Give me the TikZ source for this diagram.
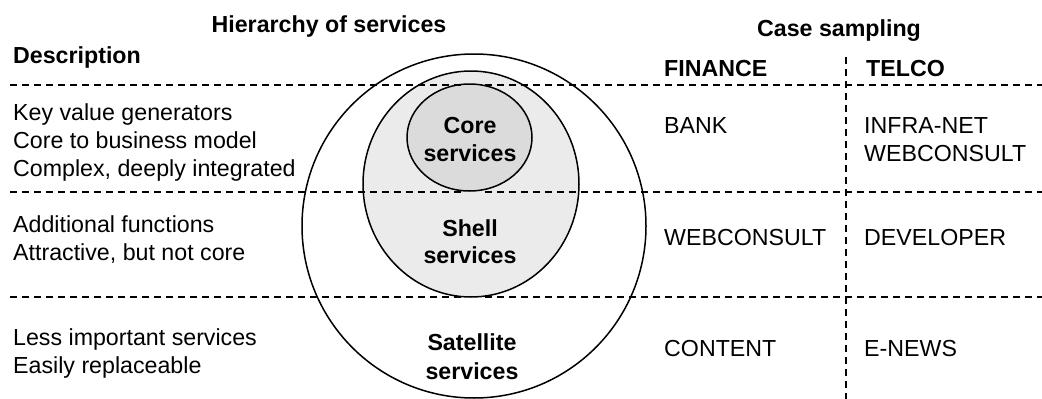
\documentclass[tikz,border=0pt]{standalone}
\usepackage{fontspec}
\setmainfont{Liberation Sans}
\begin{document}
\begin{tikzpicture}[x=1pt,y=-1pt,
  txt/.style={inner sep=0pt,anchor=base west,font=\fontsize{23.2}{28}\selectfont},
  hdr/.style={txt,font=\fontsize{23.2}{28}\selectfont\bfseries},
  ctr/.style={inner sep=0pt,anchor=base,font=\fontsize{23.2}{28}\selectfont\bfseries},
  ring/.style={draw=black,line width=1.5pt},
  sep/.style={draw=black,line width=2.7pt,dash pattern=on 7pt off 5pt}]
\useasboundingbox (0,0) rectangle (1042,399);
% circles
\draw[ring,fill=white] (474,226) ellipse [x radius=172,y radius=172];
\draw[ring,fill=black!8] (471,184) ellipse [x radius=108,y radius=113];
\draw[ring,fill=black!14] (469.5,137.5) ellipse [x radius=62.5,y radius=53.5];
% separators
\coordinate (l1a) at (10,85); \coordinate (l1b) at (463,85);
\coordinate (l1c) at (485,85); \coordinate (l1d) at (1042,85);
\coordinate (l2a) at (10,192); \coordinate (l2b) at (463,192);
\coordinate (l2c) at (485,192); \coordinate (l2d) at (1042,192);
\coordinate (l3a) at (10,297); \coordinate (l3b) at (463,297);
\coordinate (l3c) at (485,297); \coordinate (l3d) at (1042,297);
\coordinate (va) at (846,57); \coordinate (vb) at (846,399);
\draw[sep] (l1a) -- (l1b); \draw[sep] (l1c) -- (l1d);
\draw[sep] (l2a) -- (l2b); \draw[sep] (l2c) -- (l2d);
\draw[sep] (l3a) -- (l3b); \draw[sep] (l3c) -- (l3d);
\draw[sep] (va) -- (vb);
% headers
\node[ctr] (hier) at (329,32) {Hierarchy of services};
\node[hdr] (desc) at (13,63) {Description};
\node[ctr] (case) at (839,36) {Case sampling};
\node[hdr] (fin) at (664,76) {FINANCE};
\node[hdr] (tel) at (866,76) {TELCO};
% descriptions
\node[txt] (d11) at (13,120) {Key value generators};
\node[txt] (d12) at (13,148) {Core to business model};
\node[txt] (d13) at (13,176) {Complex, deeply integrated};
\node[txt] (d21) at (13,232) {Additional functions};
\node[txt] (d22) at (13,260) {Attractive, but not core};
\node[txt] (d31) at (13,345) {Less important services};
\node[txt] (d32) at (13,373) {Easily replaceable};
% circle labels
\node[ctr] (c1) at (470,133) {Core};
\node[ctr] (c2) at (470,161) {services};
\node[ctr] (s1) at (470,236) {Shell};
\node[ctr] (s2) at (470,263) {services};
\node[ctr] (t1) at (472,350) {Satellite};
\node[ctr] (t2) at (472,379) {services};
% cases
\node[txt] (f1) at (664,133) {BANK};
\node[txt] (f2) at (664,245) {WEBCONSULT};
\node[txt] (f3) at (664,356) {CONTENT};
\node[txt] (e1) at (864,133) {INFRA-NET};
\node[txt] (e2) at (864,161) {WEBCONSULT};
\node[txt] (e3) at (864,245) {DEVELOPER};
\node[txt] (e4) at (864,356) {E-NEWS};
\end{tikzpicture}
\end{document}
